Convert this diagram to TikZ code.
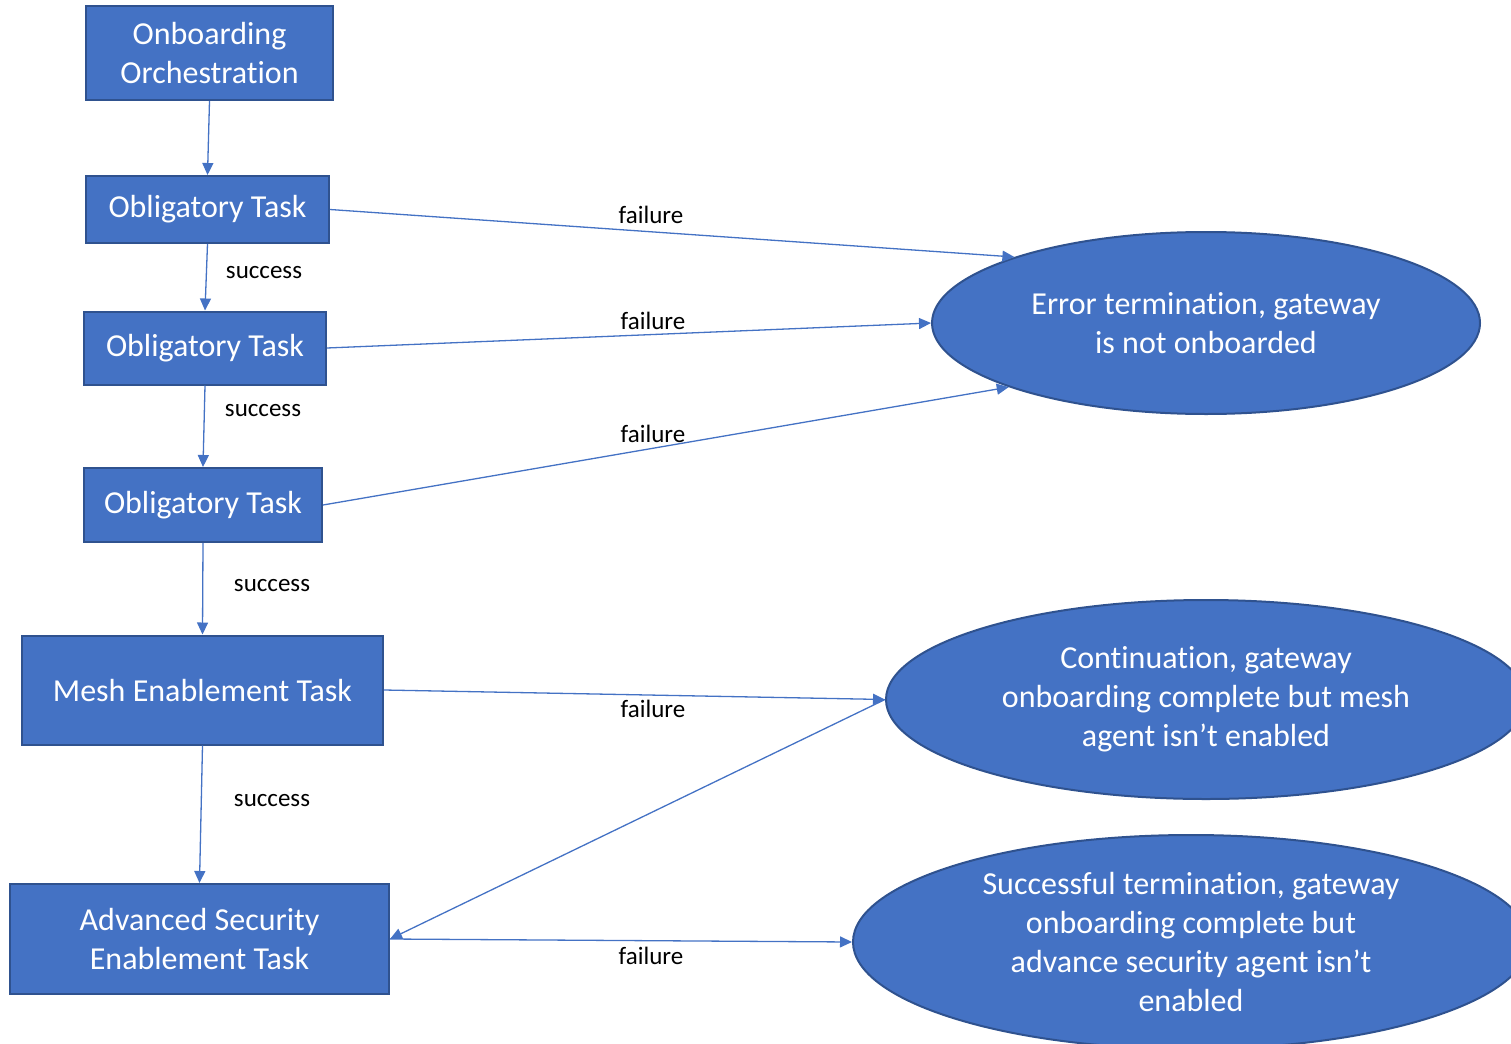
\documentclass[tikz,border=0pt]{standalone}
\usepackage{fontspec}
\setmainfont{Carlito}[Ligatures=NoCommon]
\usetikzlibrary{arrows.meta,shapes.geometric}
\definecolor{blockfill}{HTML}{4472C4}
\definecolor{blockedge}{HTML}{2F528F}
\tikzset{
  taskbox/.style={draw=blockedge, fill=blockfill, line width=2pt, text=white,
    inner sep=0pt, align=center, font=\fontsize{32}{39}\selectfont},
  outcome/.style={ellipse, draw=blockedge, fill=blockfill, line width=2pt, text=white,
    inner sep=0pt, align=center, font=\fontsize{32}{39}\selectfont},
  flow/.style={draw=blockfill, line width=1.3pt, -{Triangle[length=12pt,width=11pt]}},
  tag/.style={font=\fontsize{25}{30}\selectfont, text=black, inner sep=0pt}
}
\begin{document}
\begin{tikzpicture}[x=1pt,y=-1pt]
\useasboundingbox (0,0) rectangle (1511,1043);
\begin{scope}
\clip (0,0) rectangle (1511,1043);

% task column
\node[taskbox, minimum width=247pt, minimum height=94pt] (orch) at (209.5,53) {Onboarding\\Orchestration};
\node[taskbox, minimum width=243pt, minimum height=67pt] (t1) at (207.5,209.5) {Obligatory Task};
\node[taskbox, minimum width=242pt, minimum height=73pt] (t2) at (205,348) {Obligatory Task};
\node[taskbox, minimum width=238pt, minimum height=74pt] (t3) at (203,505) {Obligatory Task};
\node[taskbox, minimum width=361pt, minimum height=109pt] (mesh) at (202.5,690) {Mesh Enablement Task};
\node[taskbox, minimum width=379pt, minimum height=110pt] (adv) at (199.5,939) {Advanced Security\\Enablement Task};

% outcomes
\node[outcome, minimum width=548pt, minimum height=182pt] (err) at (1206,323) {Error termination, gateway\\is not onboarded};
\node[outcome, minimum width=640pt, minimum height=199pt] (cont) at (1206,699.5) {Continuation, gateway\\onboarding complete but mesh\\agent isn’t enabled};
\node[outcome, minimum width=676pt, minimum height=214pt] (succ) at (1191,942) {Successful termination, gateway\\onboarding complete but\\advance security agent isn’t\\enabled};

% success path
\draw[flow] (orch.south) -- (t1.north);
\draw[flow] (t1.south) -- (t2.north);
\draw[flow] (t2.south) -- (t3.north);
\draw[flow] (t3.south) -- (mesh.north);
\draw[flow] (mesh.south) -- (adv.north);
\node[tag] (s1) at (264,273) {success};
\node[tag] (s2) at (263,411) {success};
\node[tag] (s3) at (272,586) {success};
\node[tag] (s4) at (272,801) {success};

% failure paths
\draw[flow] (t1.east) -- (err.161.4);
\draw[flow] (t2.east) -- (err.west);
\draw[flow] (t3.east) -- (err.198.6);
\draw[flow] (mesh.east) -- (cont.west);
\draw[flow] (cont.west) -- (adv.east);
\draw[flow] (adv.east) -- (succ.west);
\node[tag] (f1) at (651,215) {failure};
\node[tag] (f2) at (653,321) {failure};
\node[tag] (f3) at (653,434) {failure};
\node[tag] (f4) at (653,709) {failure};
\node[tag] (f5) at (651,956) {failure};
\end{scope}
\end{tikzpicture}
\end{document}
